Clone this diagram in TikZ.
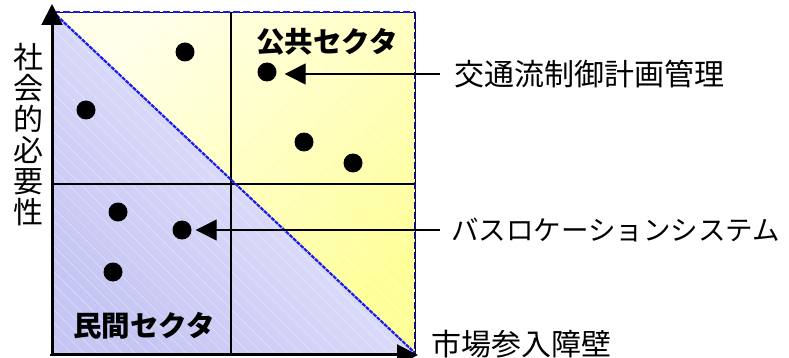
\documentclass[tikz,border=0pt]{standalone}
\usepackage{fontspec}
\setmainfont{Noto Sans CJK JP}
\usetikzlibrary{arrows.meta,patterns.meta}
\definecolor{ylight}{HTML}{FFFFEA}
\definecolor{ydeep}{HTML}{FFFF98}
\definecolor{llight}{HTML}{ECECFF}
\definecolor{ldeep}{HTML}{C6C6F4}
\definecolor{dblue}{HTML}{1A1AF0}
\tikzset{
  dot/.style={circle,fill=black,minimum size=19pt,inner sep=0pt},
  axisline/.style={line width=2pt,-{Triangle[width=21pt,length=21pt]}},
  ptr/.style={line width=1.3pt,-{Triangle[width=21pt,length=21pt]}},
  gridline/.style={line width=1.3pt,black},
  bigtxt/.style={font=\fontsize{30pt}{31pt}\selectfont,inner sep=2pt},
  kanatxt/.style={font=\fontsize{27.5pt}{29pt}\selectfont,inner sep=2pt},
  sectortxt/.style={font=\fontsize{28.5pt}{30pt}\selectfont\bfseries,inner sep=2pt},
  hatch/.style={pattern={Lines[angle=-45,distance=9pt,line width=0.5pt]},pattern color=white}
}
\begin{document}
\begin{tikzpicture}[x=1pt,y=-1pt]
\useasboundingbox (0,0) rectangle (789,358);
% fills
\shade[top color=ylight,bottom color=ydeep,shading angle=45]
  (53,12) -- (415,12) -- (415,353) -- cycle;
\shade[top color=llight,bottom color=ldeep,shading angle=-45]
  (53,12) -- (53,353) -- (415,353) -- cycle;
\fill[hatch,opacity=0.45] (53,12) rectangle (415,353);
% box and grid
\draw[line width=0.8pt,black] (53,12) rectangle (415,353);
\draw[gridline] (231,12) -- (231,353);
\draw[gridline] (53,184) -- (415,184);
\draw[dblue,line width=2pt,dash pattern=on 7pt off 3pt] (53,12) -- (415,12);
\draw[dblue!55!black,line width=1.5pt,dash pattern=on 7pt off 3pt] (415,12) -- (415,353);
\draw[dblue,line width=2.2pt,dash pattern=on 4pt off 1pt] (53,12) -- (415,353);
% axes
\coordinate (o) at (52,355);
\coordinate (ytip) at (52,4);
\coordinate (xtip) at (418,355);
\draw[axisline] (o) -- (ytip);
\draw[axisline] (50,355) -- (xtip);
% dots
\node[dot] (d1) at (185,52) {};
\node[dot] (d2) at (267,72) {};
\node[dot] (d3) at (86,110) {};
\node[dot] (d4) at (304,142) {};
\node[dot] (d5) at (353,163) {};
\node[dot] (d6) at (118,212) {};
\node[dot] (d7) at (182,230) {};
\node[dot] (d8) at (113,272) {};
% sector labels
\node[sectortxt] (pub) at (327,42) {公共セクタ};
\node[sectortxt] (priv) at (144,326) {民間セクタ};
% axis labels
\node[bigtxt,align=center] (ylab) at (28,135) {社\\会\\的\\必\\要\\性};
\node[bigtxt,anchor=west] (xlab) at (429,344) {市場参入障壁};
% pointer labels
\node[bigtxt,anchor=west] (t1) at (452,74) {交通流制御計画管理};
\node[kanatxt,anchor=west] (t2) at (449,230) {バスロケーションシステム};
\draw[ptr,shorten <=12pt,shorten >=8pt] (t1.west) -- (t1.west -| d2.east);
\draw[ptr,shorten <=9pt,shorten >=4pt] (t2.west) -- (t2.west -| d7.east);
\end{tikzpicture}
\end{document}
